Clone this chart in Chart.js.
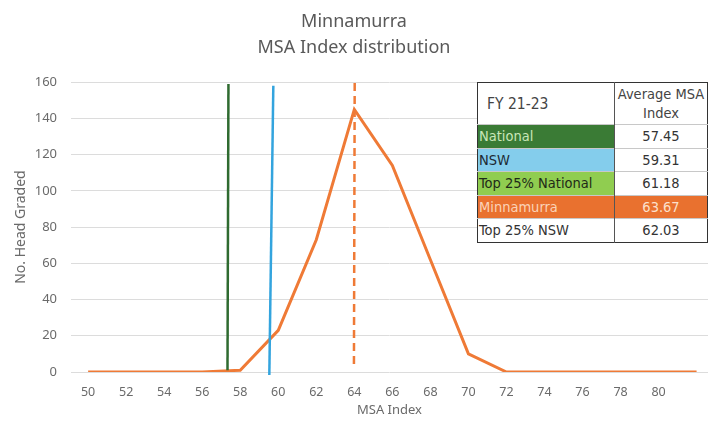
<!DOCTYPE html>
<html>
<head>
<meta charset="utf-8">
<script src="https://cdn.jsdelivr.net/npm/chart.js@4.4.1/dist/chart.umd.min.js"></script>
<style>
    body { margin: 0; background: #fff; }
    #wrap { position: relative; width: 720px; height: 424px; }
    #msaTable {
        position: absolute; left: 477px; top: 82px; width: 231px;
        border-collapse: collapse; font-family: "DejaVu Sans Condensed", "DejaVu Sans", sans-serif;
        font-size: 14.5px; color: #333; border: 1.5px solid #333; background: #fff;
    }
    #msaTable td { padding: 0 1px; height: 22.5px; border-top: 1px solid #c8c8c8; white-space: nowrap; }
    #msaTable td.val { text-align: center; border-left: 1px solid #555; width: 90px; }
    #msaTable tr.head td { height: 41px; color: #444; border-top: none; }
    #msaTable tr.head td.lab { padding-left: 9px; font-size: 15.5px; }
    #msaTable tr.head td.val { line-height: 19px; }
</style>
</head>
<body>
<div id="wrap">
    <canvas id="myChart" width="720" height="424"></canvas>
    <table id="msaTable"></table>
</div>
<script>
// distribution of head graded per MSA index
const msaIndex = [50, 52, 54, 56, 58, 60, 62, 64, 66, 68, 70, 72, 74, 76, 78, 80, 82]
const headGraded = [0, 0, 0, 0, 1, 23, 73, 145, 114, 62, 10, 0, 0, 0, 0, 0, 0]
const xTicks = [50, 52, 54, 56, 58, 60, 62, 64, 66, 68, 70, 72, 74, 76, 78, 80]

// hand drawn marker lines (top, bottom)
const nationalLineX = [57.38, 57.33]
const nationalLineY = [159, 1]
const nswLineX = [59.74, 59.53]
const nswLineY = [158, -1.7]
const minnaLineX = [64.02, 63.98]
const minnaLineY = [159.5, 4]

// table
const tableLabels = ['National', 'NSW', 'Top 25% National', 'Minnamurra', 'Top 25% NSW']
const tableValues = ['57.45', '59.31', '61.18', '63.67', '62.03']
const tableFill = ['#3a7b35', '#84cdec', '#90cd50', '#e9712f', '#ffffff']
const tableText = ['#c9e6b8', '#1d2a33', '#1f2a18', '#fbd3b8', '#333333']
const valueFill = ['#ffffff', '#ffffff', '#ffffff', '#e9712f', '#ffffff']
const valueText = ['#333333', '#333333', '#333333', '#fce0cc', '#333333']

function toPoints(xs, ys){
    let pts = []
    for(i=0; i<xs.length; i++){
        pts.push({x: xs[i], y: ys[i]})
    }
    return pts
}

const table = document.getElementById('msaTable')
let head = document.createElement('tr')
head.className = 'head'
head.innerHTML = '<td class="lab">FY 21-23</td><td class="val">Average MSA<br>Index</td>'
table.appendChild(head)
for(i=0; i<tableLabels.length; i++){
    let row = document.createElement('tr')
    let lab = document.createElement('td')
    lab.textContent = tableLabels[i]
    lab.style.background = tableFill[i]
    lab.style.color = tableText[i]
    let val = document.createElement('td')
    val.className = 'val'
    val.textContent = tableValues[i]
    val.style.background = valueFill[i]
    val.style.color = valueText[i]
    row.appendChild(lab)
    row.appendChild(val)
    table.appendChild(row)
}

const grey = '#6a6a6a'
const font = '"Noto Sans", sans-serif'

const config = {
    type: 'line',
    data: {
        datasets: [
            {data: toPoints(nationalLineX, nationalLineY), borderColor: '#2f6b30', borderWidth: 2.5, pointRadius: 0, clip: false},
            {data: toPoints(nswLineX, nswLineY), borderColor: '#33a4de', borderWidth: 2.5, pointRadius: 0, clip: false},
            {data: toPoints(minnaLineX, minnaLineY), borderColor: '#ef7a36', borderWidth: 2.5, borderDash: [8, 5], pointRadius: 0, clip: false},
            {data: toPoints(msaIndex, headGraded), borderColor: '#ef7a36', borderWidth: 3, pointRadius: 0, tension: 0}
        ]
    },
    options: {
        responsive: false,
        animation: false,
        layout: {padding: {left: 0, right: 12, top: 0, bottom: 0}},
        plugins: {
            legend: {display: false},
            tooltip: {enabled: false},
            title: {
                display: true,
                text: ['Minnamurra', 'MSA Index distribution'],
                color: '#595959',
                font: {family: font, size: 18, weight: 'normal', lineHeight: 1.45},
                padding: {top: 9, bottom: 21}
            }
        },
        scales: {
            x: {
                type: 'linear',
                min: 49.1,
                max: 82.6,
                afterBuildTicks: (scale) => { scale.ticks = xTicks.map(v => ({value: v})) },
                afterFit: (scale) => { scale.height = 52 },
                grid: {display: false},
                border: {display: false},
                ticks: {color: grey, font: {family: font, size: 12.5}, padding: 5, autoSkip: false, maxRotation: 0},
                title: {display: true, text: 'MSA Index', color: grey, font: {family: font, size: 13}, padding: {top: 0, bottom: 6}}
            },
            y: {
                min: 0,
                max: 160,
                afterFit: (scale) => { scale.width = 71 },
                grid: {color: '#dcdcdc', lineWidth: 1, drawTicks: false},
                border: {display: false},
                ticks: {stepSize: 20, color: grey, font: {family: font, size: 13}, padding: 14},
                title: {display: true, text: 'No. Head Graded', color: grey, font: {family: font, size: 14}, padding: {top: 13, bottom: 0}}
            }
        }
    }
}

chart1 = new Chart(document.getElementById('myChart'), config)
</script>
</body>
</html>
